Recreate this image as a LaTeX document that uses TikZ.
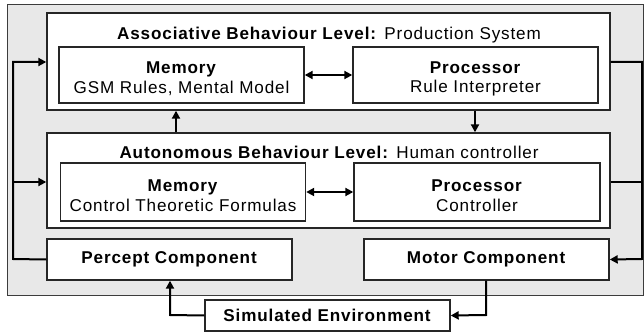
\documentclass[tikz,border=0pt]{standalone}
\usepackage{fontspec}
\setmainfont[LetterSpace=5]{Liberation Sans}
\usetikzlibrary{arrows.meta}
\definecolor{bgGrey}{RGB}{232,232,232}
\definecolor{edgeGrey}{RGB}{60,60,60}
\newcommand{\topstrut}{\rule{0pt}{19.5pt}}
\tikzset{
  x=1pt, y=-1pt,
  boxnode/.style={draw=black!85, line width=1.4pt, fill=white, inner sep=0pt, align=center, font=\fontsize{17.1}{19.5}\selectfont},
  labelnode/.style={inner sep=0pt, font=\fontsize{17.1}{19.5}\selectfont, anchor=base},
  link/.style={line width=2pt, black},
  arr/.style={link, -{Triangle[length=8pt,width=8pt]}},
  darr/.style={link, {Triangle[length=8pt,width=8pt]}-{Triangle[length=8pt,width=8pt]}},
}
\begin{document}
\begin{tikzpicture}
\useasboundingbox (0,0) rectangle (644,334);
\node[draw=edgeGrey, line width=1pt, fill=bgGrey, minimum width=636pt, minimum height=290pt, inner sep=0pt] (outer) at (325,150) {};
% associative level
\node[boxnode, minimum width=563pt, minimum height=97pt] (assoc) at (328.5,61.5) {};
\node[labelnode] (assoctitle) at (329,39.5) {\textbf{Associative Behaviour Level:} Production System};
\node[boxnode, minimum width=245pt, minimum height=56pt] (mem1) at (181.5,75) {\topstrut\textbf{Memory}\\GSM Rules, Mental Model};
\node[boxnode, minimum width=245pt, minimum height=56pt] (proc1) at (475.5,75) {\topstrut\textbf{Processor}\\Rule Interpreter};
% autonomous level
\node[boxnode, minimum width=563pt, minimum height=95pt] (auto) at (328.5,180.5) {};
\node[labelnode] (autotitle) at (329,158) {\textbf{Autonomous Behaviour Level:} Human controller};
\node[boxnode, minimum width=245pt, minimum height=58pt] (mem2) at (183,192) {\topstrut\textbf{Memory}\\Control Theoretic Formulas};
\node[boxnode, minimum width=246pt, minimum height=58pt] (proc2) at (477,192) {\topstrut\textbf{Processor}\\Controller};
% components
\node[boxnode, minimum width=245pt, minimum height=41pt] (percept) at (169.5,259.5) {\textbf{Percept Component}};
\node[boxnode, minimum width=245pt, minimum height=41pt] (motor) at (486.5,259.5) {\textbf{Motor Component}};
\node[boxnode, minimum width=245pt, minimum height=31pt] (simenv) at (327.5,315.5) {\textbf{Simulated Environment}};
% coordinates
\coordinate (lx1) at (13,259);
\coordinate (lx2) at (13,62);
\coordinate (lx3) at (13,182);
\coordinate (rx1) at (642,62);
\coordinate (rx2) at (642,259);
\coordinate (rx3) at (642,182);
\coordinate (pc) at (170,315);
\coordinate (mc) at (486,315);
% connectors
\draw[darr] (mem1.east) -- (proc1.west);
\draw[darr] (mem2.east) -- (proc2.west);
\draw[arr] (auto.north -| 176,0) -- (assoc.south -| 176,0);
\draw[arr] (assoc.south -| 475,0) -- (auto.north -| 475,0);
\draw[arr] (percept.west) -- (lx1) -- (lx2) -- (lx2 -| assoc.west);
\draw[arr] (lx3) -- (lx3 -| auto.west);
\draw[arr] (assoc.east |- rx1) -- (rx1) -- (rx2) -- (motor.east);
\draw[link] (auto.east |- rx3) -- (rx3);
\draw[arr] (simenv.west) -- (pc) -- (percept.south -| pc);
\draw[arr] (motor.south -| mc) -- (mc) -- (simenv.east);
\end{tikzpicture}
\end{document}
